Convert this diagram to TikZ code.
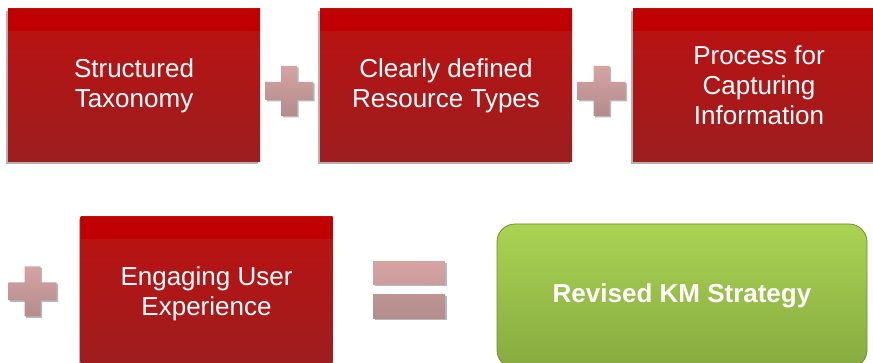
\documentclass[tikz,border=0pt]{standalone}
\usepackage{fontspec}
\setmainfont{Liberation Sans}
\usetikzlibrary{shadows}
\definecolor{redtop}{HTML}{BD1111}
\definecolor{redbot}{HTML}{9C1E1F}
\definecolor{redband}{HTML}{C00000}
\definecolor{pinktop}{HTML}{D6A3A3}
\definecolor{pinkbot}{HTML}{B28C8C}
\definecolor{greentop}{HTML}{AAD352}
\definecolor{greenbot}{HTML}{87AA40}
\definecolor{greenline}{HTML}{6E8E2C}
\tikzset{
  redbox/.style={rectangle, minimum width=252pt, minimum height=153pt, inner sep=0pt,
    top color=redtop, bottom color=redbot, text=white, align=center,
    font=\fontsize{26}{30}\selectfont,
    drop shadow={shadow xshift=-2pt, shadow yshift=-2pt, fill=black!30, opacity=1},
    path picture={\fill[redband] (path picture bounding box.north west) rectangle ([yshift=-22pt]path picture bounding box.north east);}},
  greenbox/.style={rectangle, rounded corners=18pt, minimum width=370pt, minimum height=144pt, inner sep=0pt,
    top color=greentop, bottom color=greenbot, draw=greenline, line width=0.8pt, text=white,
    font=\bfseries\fontsize{26}{30}\selectfont},
  sign/.style={top color=pinktop, bottom color=pinkbot},
  signshadow/.style={fill=black!28}
}
\newcommand{\plussign}[2]{%
  \fill[signshadow] ({#1-24+1.5},{#2-9+1.5}) -- ({#1-8+1.5},{#2-9+1.5}) -- ({#1-8+1.5},{#2-25+1.5}) -- ({#1+8+1.5},{#2-25+1.5}) -- ({#1+8+1.5},{#2-9+1.5}) -- ({#1+24+1.5},{#2-9+1.5}) -- ({#1+24+1.5},{#2+9+1.5}) -- ({#1+8+1.5},{#2+9+1.5}) -- ({#1+8+1.5},{#2+25+1.5}) -- ({#1-8+1.5},{#2+25+1.5}) -- ({#1-8+1.5},{#2+9+1.5}) -- ({#1-24+1.5},{#2+9+1.5}) -- cycle;
  \shade[sign] ({#1-24},{#2-9}) -- ({#1-8},{#2-9}) -- ({#1-8},{#2-25}) -- ({#1+8},{#2-25}) -- ({#1+8},{#2-9}) -- ({#1+24},{#2-9}) -- ({#1+24},{#2+9}) -- ({#1+8},{#2+9}) -- ({#1+8},{#2+25}) -- ({#1-8},{#2+25}) -- ({#1-8},{#2+9}) -- ({#1-24},{#2+9}) -- cycle;
}
\begin{document}
\begin{tikzpicture}[x=1pt,y=-1pt]
\useasboundingbox (0,0) rectangle (873,363);
\clip (0,0) rectangle (873,363);
\fill[white] (0,0) rectangle (873,363);

\node[redbox] (taxonomy) at (134,85.5) {Structured\\Taxonomy};
\node[redbox] (resources) at (446,85.5) {Clearly defined\\Resource Types};
\node[redbox] (process) at (759,85.5) {Process for\\Capturing\\Information};
\node[redbox] (ux) at (206.5,293.5) {Engaging User\\Experience};
\node[greenbox] (strategy) at (682,296) {Revised KM Strategy};

\plussign{289}{91}
\plussign{601.5}{91}
\plussign{32.5}{291.5}

% equals sign
\fill[signshadow] (374.5,263.5) rectangle (446.5,286.5);
\fill[signshadow] (374.5,296.5) rectangle (446.5,320.5);
\shade[top color=pinktop, bottom color=pinktop!70!pinkbot] (373,262) rectangle (445,285);
\shade[top color=pinktop!35!pinkbot, bottom color=pinkbot] (373,295) rectangle (445,319);
\end{tikzpicture}
\end{document}
